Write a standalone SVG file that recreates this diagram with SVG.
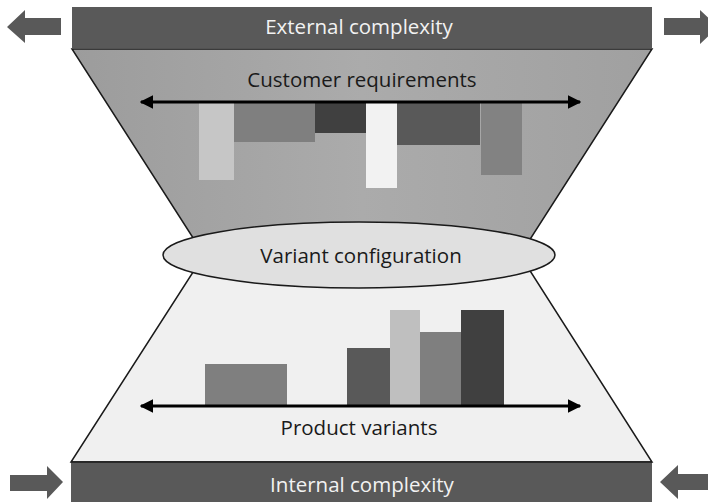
<svg xmlns="http://www.w3.org/2000/svg" width="708" height="502" viewBox="0 0 708 502">
  <defs>
    <style>
      .bar { fill: #595959; }
      .bar-label { font-family: "Open Sans", "Liberation Sans", sans-serif; font-size: 20.5px; fill: #f2f2f2; text-anchor: middle; }
      .label { font-family: "Open Sans", "Liberation Sans", sans-serif; font-size: 20.5px; fill: #1a1a1a; text-anchor: middle; }
      .funnel { stroke: #1a1a1a; stroke-width: 1.5; }
      .axis { stroke: #000; stroke-width: 3; fill: none; marker-start: url(#head); marker-end: url(#head); }
      .arrow { fill: #595959; }
    </style>
    <marker id="head" viewBox="0 0 10 10" refX="9" refY="5" markerWidth="4.5" markerHeight="4.5" orient="auto-start-reverse" markerUnits="strokeWidth">
      <path d="M0,0 L10,5 L0,10 z" fill="#000"/>
    </marker>
    <linearGradient id="topFill" x1="0" y1="0" x2="1" y2="0">
      <stop offset="0" stop-color="#9c9c9c"/>
      <stop offset="0.5" stop-color="#ababab"/>
      <stop offset="1" stop-color="#a0a0a0"/>
    </linearGradient>
  </defs>

  <!-- upper half of the hourglass -->
  <g id="customer-side">
    <polygon class="funnel" points="72,49 652,49 520,255 204,255" fill="url(#topFill)"/>
    <text class="label" x="362" y="87">Customer requirements</text>
    <rect x="199" y="103" width="35" height="77" fill="#c6c6c6"/>
    <rect x="234" y="103" width="81" height="39" fill="#7f7f7f"/>
    <rect x="315" y="103" width="51" height="30" fill="#404040"/>
    <rect x="366" y="103" width="31" height="85" fill="#f2f2f2"/>
    <rect x="397" y="103" width="83" height="42" fill="#595959"/>
    <rect x="481" y="103" width="41" height="72" fill="#828282"/>
  </g>

  <!-- lower half of the hourglass -->
  <g id="product-side">
    <polygon class="funnel" points="204,255 520,255 652,462 71,462" fill="#f0f0f0"/>
    <rect x="205" y="364" width="82" height="42" fill="#7f7f7f"/>
    <rect x="347" y="348" width="43" height="58" fill="#595959"/>
    <rect x="390" y="310" width="30" height="96" fill="#bfbfbf"/>
    <rect x="420" y="332" width="41" height="74" fill="#7f7f7f"/>
    <rect x="461" y="310" width="43" height="96" fill="#404040"/>
    <text class="label" x="359" y="435">Product variants</text>
  </g>

  <!-- top and bottom bands -->
  <g id="external-complexity">
    <rect class="bar" x="72" y="7" width="580" height="41"/>
    <text class="bar-label" x="359" y="34">External complexity</text>
  </g>
  <g id="internal-complexity">
    <rect class="bar" x="71" y="462" width="581" height="40"/>
    <line x1="71" y1="462" x2="652" y2="462" stroke="#1a1a1a" stroke-width="1.5"/>
    <text class="bar-label" x="362" y="492">Internal complexity</text>
  </g>

  <!-- waist of the hourglass -->
  <g id="variant-configuration">
    <ellipse cx="359" cy="255" rx="196" ry="33" fill="#e0e0e0" stroke="#1a1a1a" stroke-width="1.5"/>
    <text class="label" x="361" y="263">Variant configuration</text>
  </g>

  <g id="connectors">
    <line class="axis" x1="141" y1="102" x2="580" y2="102"/>
    <line class="axis" x1="141" y1="406" x2="580" y2="406"/>
    <!-- outward arrows beside the external band -->
    <polygon class="arrow" points="7,27 25,10 25,18 61,18 61,35 25,35 25,43"/>
    <polygon class="arrow" points="664,18 700,18 700,10 718,27 700,44 700,35 664,35"/>
    <!-- inward arrows beside the internal band -->
    <polygon class="arrow" points="10,475 47,475 47,466 63,482 47,499 47,491 10,491"/>
    <polygon class="arrow" points="660,482 678,465 678,474 708,474 708,490 678,490 678,499"/>
  </g>
</svg>
